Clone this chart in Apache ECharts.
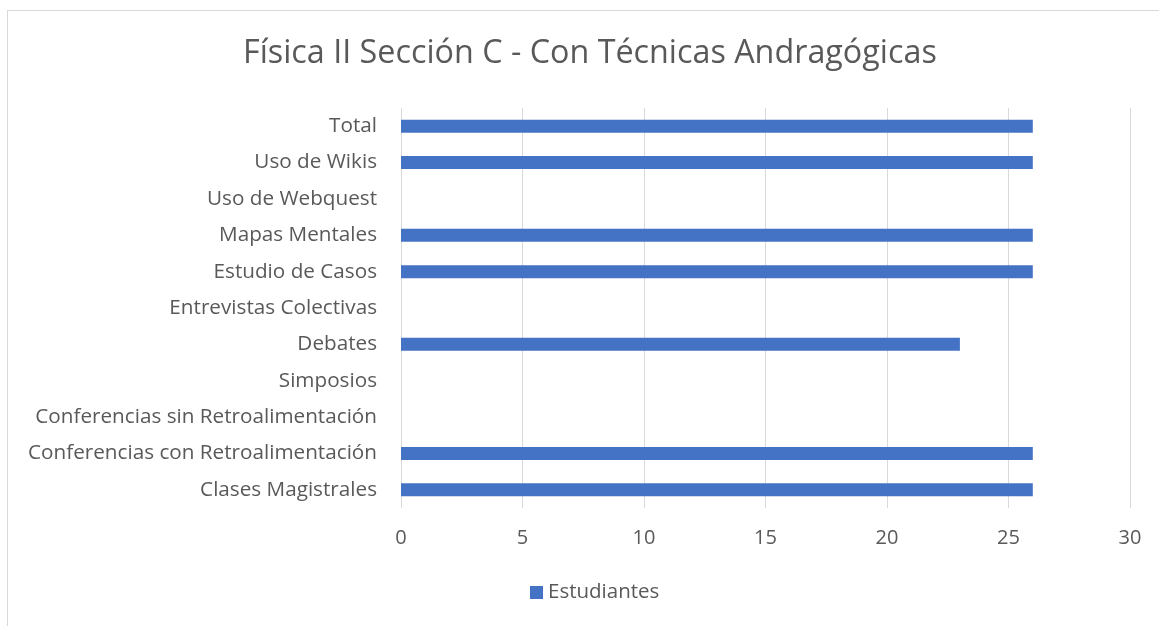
<!DOCTYPE html>
<html>
<head>
<meta charset="utf-8">
<script src="https://cdn.jsdelivr.net/npm/echarts@6/dist/echarts.min.js"></script>
<style>
  html, body { margin: 0; padding: 0; background: #ffffff; }
  #frame {
    position: absolute; left: 7px; top: 10px; width: 1160px; height: 626px;
    border: 1px solid #d9d9d9; box-sizing: border-box;
  }
  #chart { position: absolute; left: 0; top: 0; width: 1159px; height: 626px; }
</style>
</head>
<body>
<div id="frame"></div>
<div id="chart"></div>
<script>
// categories listed bottom to top
const categories = [
  'Clases Magistrales',
  'Conferencias con Retroalimentación',
  'Conferencias sin Retroalimentación',
  'Simposios',
  'Debates',
  'Entrevistas Colectivas',
  'Estudio de Casos',
  'Mapas Mentales',
  'Uso de Webquest',
  'Uso de Wikis',
  'Total'
];
const estudiantes = [26, 26, null, null, 23, null, 26, 26, null, 26, 26];
const xTicks = [0, 5, 10, 15, 20, 25, 30];

const fontFamily = '"Open Sans", Lato, sans-serif';
const chart = echarts.init(document.getElementById('chart'));

chart.setOption({
  animation: false,
  title: {
    text: 'Física II Sección C - Con Técnicas Andragógicas',
    left: 238,
    top: 33,
    textStyle: { fontFamily: fontFamily, fontSize: 32.3, fontWeight: 'normal', color: '#595959' }
  },
  legend: {
    data: ['Estudiantes'],
    bottom: 18,
    left: 525,
    icon: 'rect',
    itemWidth: 13,
    itemHeight: 13,
    itemGap: 5,
    textStyle: { fontFamily: fontFamily, fontSize: 20.5, color: '#595959' }
  },
  grid: { left: 401, right: 29, top: 108, bottom: 118, containLabel: false },
  xAxis: {
    type: 'value',
    min: xTicks[0],
    max: xTicks[xTicks.length - 1],
    interval: 5,
    axisLine: { show: false },
    axisTick: { show: false },
    axisLabel: { fontFamily: fontFamily, fontSize: 20, color: '#595959', margin: 20 },
    splitLine: { lineStyle: { color: '#d9d9d9', width: 1 } }
  },
  yAxis: {
    type: 'category',
    data: categories,
    axisLine: { show: false },
    axisTick: { show: false },
    axisLabel: { fontFamily: fontFamily, fontSize: 20.7, color: '#595959', margin: 24 }
  },
  series: [{
    name: 'Estudiantes',
    type: 'bar',
    data: estudiantes,
    barWidth: 13,
    itemStyle: { color: '#4472c4' }
  }]
});
</script>
</body>
</html>
